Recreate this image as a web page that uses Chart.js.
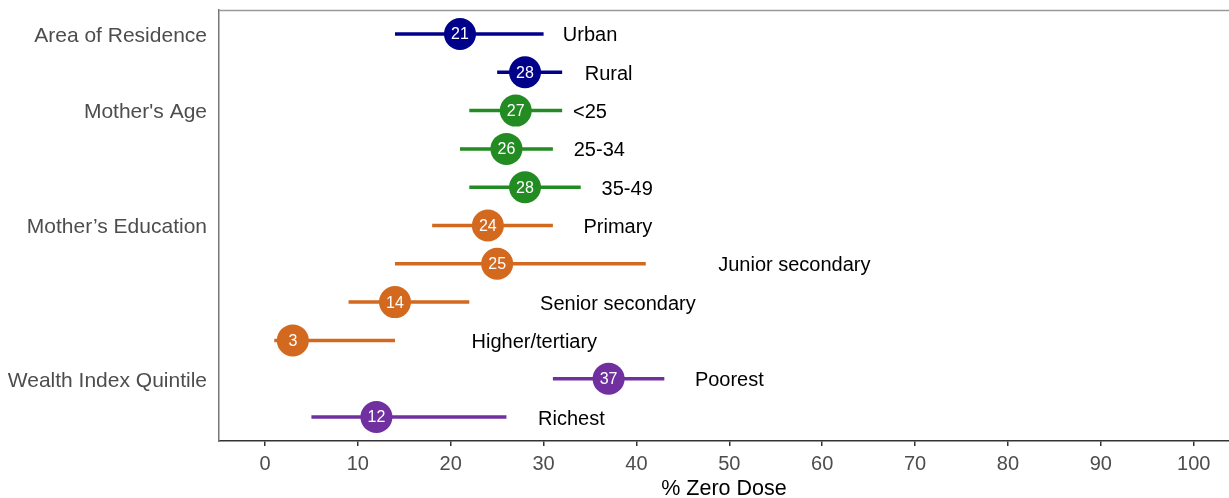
<!DOCTYPE html>
<html>
<head>
<meta charset="utf-8">
<script src="https://cdn.jsdelivr.net/npm/chart.js@4"></script>
<style>
  html, body { margin: 0; padding: 0; background: #fff; }
  #wrap { width: 1229px; height: 498px; }
</style>
</head>
<body>
<div id="wrap"><canvas id="chart" width="1229" height="498"></canvas></div>
<script>
// rows from top to bottom
const categories = ['Urban', 'Rural', '<25', '25-34', '35-49', 'Primary', 'Junior secondary',
    'Senior secondary', 'Higher/tertiary', 'Poorest', 'Richest'];
const groupOf = [0, 0, 1, 1, 1, 2, 2, 2, 2, 3, 3];
const groupNames = ['Area of Residence', "Mother's Age", 'Mother\u2019s Education', 'Wealth Index Quintile'];
const groupRows = [1, 3, 6, 10];
const estimate = [21, 28, 27, 26, 28, 24, 25, 14, 3, 37, 12];
const lower = [14, 25, 22, 21, 22, 18, 14, 9, 1, 31, 5];
const upper = [30, 32, 32, 31, 34, 31, 41, 22, 14, 43, 26];
// x (data units) where each category text is centred
const labelX = [35, 37, 35, 36, 39, 38, 57, 38, 29, 50, 33];
const xTicks = [0, 10, 20, 30, 40, 50, 60, 70, 80, 90, 100];

const groupColors = ['#00008B', '#228B22', '#D2691E', '#7030A0'];
const FONT = "'Liberation Sans', Arial, sans-serif";

const datasets = [];
categories.forEach((c, i) => {
    datasets.push({
        type: 'line',
        data: [{ x: lower[i], y: i + 1 }, { x: upper[i], y: i + 1 }],
        borderColor: groupColors[groupOf[i]],
        borderWidth: 3.5,
        pointRadius: 0,
        order: 2
    });
});
datasets.push({
    type: 'scatter',
    data: estimate.map((v, i) => ({ x: v, y: i + 1 })),
    pointRadius: 16,
    pointHoverRadius: 16,
    pointBackgroundColor: groupOf.map(g => groupColors[g]),
    pointBorderWidth: 0,
    order: 1
});

const overlay = {
    id: 'overlay',
    afterDatasetsDraw(chart) {
        const { ctx, chartArea, scales } = chart;
        ctx.save();
        // top border
        ctx.strokeStyle = '#999';
        ctx.lineWidth = 1.5;
        ctx.beginPath();
        ctx.moveTo(chartArea.left, chartArea.top + 0.5);
        ctx.lineTo(chartArea.right, chartArea.top + 0.5);
        ctx.stroke();

        ctx.textBaseline = 'middle';
        estimate.forEach((v, i) => {
            const y = scales.y.getPixelForValue(i + 1);
            ctx.fillStyle = '#fff';
            ctx.textAlign = 'center';
            ctx.font = '16px ' + FONT;
            ctx.fillText(String(v), scales.x.getPixelForValue(v), y + 1);
            ctx.fillStyle = '#000';
            ctx.font = '20px ' + FONT;
            ctx.fillText(categories[i], scales.x.getPixelForValue(labelX[i]), y + 2);
        });
        ctx.restore();
    }
};

new Chart(document.getElementById('chart'), {
    data: { datasets: datasets },
    options: {
        responsive: false,
        animation: false,
        events: [],
        layout: { autoPadding: false, padding: { left: 0, right: 0, top: 10, bottom: 0 } },
        plugins: { legend: { display: false }, tooltip: { enabled: false } },
        scales: {
            x: {
                type: 'linear',
                min: -4.95,
                max: 103.8,
                afterBuildTicks: s => { s.ticks = xTicks.map(v => ({ value: v })); },
                afterFit: s => { s.height = 57; s.paddingLeft = 0; s.paddingRight = 0; },
                ticks: {
                    color: '#4d4d4d',
                    font: { family: FONT, size: 20 },
                    padding: 6,
                    maxRotation: 0
                },
                grid: { drawOnChartArea: false, drawTicks: true, tickLength: 5, color: '#333', lineWidth: 1.5 },
                border: { display: true, color: '#333', width: 1.5 },
                title: {
                    display: true,
                    text: '% Zero Dose',
                    color: '#000',
                    font: { family: FONT, size: 21.5 },
                    padding: { top: 0, bottom: -4 }
                }
            },
            y: {
                type: 'linear',
                reverse: true,
                min: 0.375,
                max: 11.625,
                afterBuildTicks: s => { s.ticks = groupRows.map(v => ({ value: v })); },
                afterFit: s => { s.width = 219; s.paddingTop = 0; s.paddingBottom = 0; },
                ticks: {
                    color: '#4d4d4d',
                    font: { family: FONT, size: 21 },
                    padding: 12,
                    labelOffset: 2,
                    callback: (v) => groupNames[groupRows.indexOf(v)]
                },
                grid: { display: false, drawTicks: false },
                border: { display: true, color: '#777', width: 1.5 }
            }
        }
    },
    plugins: [overlay]
});
</script>
</body>
</html>
